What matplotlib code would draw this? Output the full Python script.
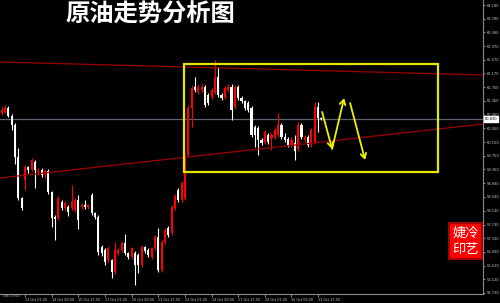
import matplotlib
matplotlib.use("Agg")
import matplotlib.pyplot as plt
from matplotlib.patches import Rectangle

# ---- data (H4 candles, bar index 0..96) ----
opens = [61.01, 61.04, 61.15, 60.92, 60.65, 59.71, 58.50, 59.04, 59.42, 59.33,
         59.56, 59.27, 59.33, 59.18, 59.30, 58.68, 57.95, 57.92, 58.39, 58.21,
         58.24, 58.21, 58.15, 58.45, 58.24, 58.30, 58.24, 58.59, 58.06, 57.95,
         57.06, 56.98, 56.68, 56.68, 56.33, 56.89, 56.98, 57.18, 56.89, 56.77,
         56.89, 56.83, 56.54, 57.06, 56.98, 56.77, 57.03, 57.36, 56.39, 57.21,
         57.62, 57.48, 58.21, 58.74, 58.45, 58.50, 59.77, 61.15, 61.77, 61.62,
         61.68, 61.77, 61.54, 61.48, 61.62, 62.06, 61.54, 61.48, 61.68, 61.77,
         61.18, 61.77, 61.45, 61.36, 61.30, 61.15, 60.59, 60.57, 60.21, 60.15,
         60.36, 60.27, 60.30, 60.36, 60.65, 60.30, 60.24, 60.06, 60.12, 59.95,
         60.65, 60.21, 60.30, 60.06, 60.15, 61.18, 60.86]
closes = [61.09, 61.15, 60.92, 60.65, 59.71, 58.50, 58.21, 59.42, 59.33, 59.62,
          59.33, 59.33, 59.18, 59.30, 58.68, 57.92, 57.88, 58.50, 58.21, 58.36,
          58.09, 58.39, 58.45, 57.86, 58.30, 58.24, 58.30, 58.06, 57.95, 56.92,
          56.89, 56.62, 57.03, 56.33, 56.98, 56.98, 57.18, 56.89, 56.77, 57.03,
          56.54, 56.54, 57.06, 56.95, 56.83, 57.03, 57.36, 56.39, 57.21, 57.56,
          57.42, 58.24, 58.56, 58.45, 58.95, 59.71, 61.15, 61.74, 61.68, 61.77,
          61.77, 61.24, 61.30, 61.68, 62.06, 61.54, 61.45, 61.74, 61.77, 61.10,
          61.77, 61.45, 61.36, 61.15, 61.09, 60.36, 60.36, 60.21, 60.12, 60.45,
          60.15, 60.36, 60.50, 60.65, 60.30, 60.21, 60.06, 60.21, 59.88, 60.65,
          60.30, 60.30, 60.06, 60.50, 61.18, 60.86, 60.83]
highs = [61.18, 61.24, 61.20, 60.98, 60.70, 59.98, 58.55, 59.48, 59.45, 59.70,
         59.62, 59.40, 59.38, 59.36, 59.36, 58.72, 58.00, 58.56, 58.45, 58.42,
         58.30, 58.89, 58.52, 58.60, 58.36, 58.45, 58.34, 58.65, 58.10, 58.00,
         57.12, 57.03, 57.10, 56.72, 57.21, 57.05, 57.25, 57.45, 56.92, 57.08,
         56.95, 56.89, 57.12, 57.10, 57.03, 57.08, 57.42, 57.62, 57.27, 57.62,
         57.68, 58.30, 58.62, 58.80, 59.00, 59.77, 61.24, 61.83, 62.06, 61.83,
         61.86, 61.83, 61.60, 61.74, 62.56, 62.36, 61.60, 61.80, 61.86, 61.86,
         61.83, 61.83, 61.50, 61.40, 61.35, 61.20, 60.65, 60.62, 60.27, 60.50,
         60.42, 60.42, 60.56, 61.00, 60.70, 60.42, 60.30, 60.30, 60.36, 60.74,
         60.70, 60.36, 60.36, 60.56, 61.33, 61.33, 60.89]
lows = [60.95, 61.00, 60.88, 60.50, 59.50, 58.45, 58.15, 58.74, 59.25, 59.30,
        58.80, 59.20, 59.12, 59.10, 58.62, 57.65, 57.27, 57.85, 58.15, 58.15,
        57.98, 58.15, 58.10, 57.60, 58.18, 58.20, 58.20, 58.00, 57.88, 56.85,
        56.80, 56.55, 56.62, 56.15, 56.28, 56.85, 56.92, 56.85, 56.72, 56.72,
        55.95, 56.30, 56.48, 56.90, 56.78, 56.72, 56.98, 56.33, 56.33, 57.15,
        57.36, 57.42, 58.15, 58.40, 58.40, 58.45, 59.71, 60.60, 61.62, 61.56,
        61.62, 61.18, 61.24, 61.42, 61.56, 61.48, 61.40, 61.42, 61.62, 60.80,
        61.12, 61.40, 61.30, 61.09, 61.03, 60.30, 60.00, 59.77, 60.06, 60.10,
        60.10, 59.92, 60.24, 60.30, 60.24, 60.15, 60.00, 60.00, 59.62, 59.90,
        60.24, 60.15, 60.00, 60.00, 60.10, 60.45, 60.80]

current_price = 60.83

ytick_values = [64.180, 63.780, 63.380, 62.970, 62.570, 62.170, 61.760, 61.360,
                60.960, 60.560, 60.150, 59.750, 59.350, 58.940, 58.540, 58.140,
                57.730, 57.330, 56.930, 56.520, 56.120, 55.720]
xtick_bars = [7, 15, 23, 31, 39, 47, 55, 63, 71, 79, 87, 95]
xtick_labels = ["13 Oct 01:00", "14 Oct 09:00", "15 Oct 17:00", "17 Oct 01:00",
                "20 Oct 09:00", "21 Oct 17:00", "23 Oct 01:00", "24 Oct 09:00",
                "27 Oct 17:00", "29 Oct 01:00", "30 Oct 09:00", "31 Oct 17:00"]

# drawing objects (trend lines, box, forecast arrows)
upper_line = ([-0.51, 144.5], [62.506, 62.124])
lower_line = ([-0.51, 144.5], [59.10, 60.684])
box_x = [54.7, 131.0]
box_p = [59.27, 62.447]
arrow_path = [((96.2, 61.037), (99.2, 59.95)),
              ((99.2, 59.95), (102.8, 61.448)),
              ((104.6, 61.30), (109.1, 59.627))]

title = "原油走势分析图"

# ---- figure ----
W, H = 500, 303
fig = plt.figure(figsize=(W / 100, H / 100), dpi=100, facecolor="black")
ax = fig.add_axes([0, 9 / H, 483 / W, 1 - 9 / H])
ax.set_facecolor("black")
ax.set_xlim(-0.51, 144.5)
ax.set_ylim(55.69, 64.327)

n = len(opens)
xs = list(range(n))
up_col, dn_col = "#ff0000", "#ffffff"
cols = [up_col if c >= o else dn_col for o, c in zip(opens, closes)]
ax.vlines(xs, lows, highs, colors=cols, linewidth=0.8, zorder=3)
bodies = [max(abs(c - o), 0.02) for o, c in zip(opens, closes)]
bottoms = [min(o, c) for o, c in zip(opens, closes)]
ax.bar(xs, bodies, bottom=bottoms, width=0.62, color=cols, linewidth=0, zorder=4)

# current price line
ax.axhline(current_price, color="#5a6470", linewidth=0.9, zorder=2)

# trend lines
ax.plot(*upper_line, color="#9a0000", linewidth=0.9, zorder=5)
ax.plot(*lower_line, color="#9a0000", linewidth=0.9, zorder=5)

# yellow box
ax.add_patch(Rectangle((box_x[0], box_p[0]), box_x[1] - box_x[0], box_p[1] - box_p[0],
                       fill=False, edgecolor="#e6e600", linewidth=1.6, zorder=6))

# forecast arrows
for (a, b) in arrow_path:
    ax.annotate("", xy=b, xytext=a,
                arrowprops=dict(arrowstyle="->,head_length=0.35,head_width=0.2",
                                color="#f0f000", lw=1.3, shrinkA=0, shrinkB=0),
                zorder=7)

# axes styling
for s in ["left", "top"]:
    ax.spines[s].set_visible(False)
for s in ["right", "bottom"]:
    ax.spines[s].set_color("#8a8a8a")
    ax.spines[s].set_linewidth(0.8)
ax.yaxis.tick_right()
ax.set_yticks(ytick_values, [f"{v:.3f}" for v in ytick_values])
ax.tick_params(axis="y", colors="#c8c8c8", labelsize=2.6, length=1.5, width=0.5, pad=1)
ax.set_xticks(xtick_bars, xtick_labels)
ax.tick_params(axis="x", colors="#c8c8c8", labelsize=2.4, length=2, width=0.5, pad=0.8)
for lbl in ax.get_xticklabels():
    lbl.set_ha("left")
ax.text(0.3, 55.69, "Oct 17:00", color="#c8c8c8", fontsize=2.4, ha="left", va="top",
        clip_on=False, transform=ax.transData)

# current price label
ax.text(145.0, current_price, f"{current_price:.3f}", fontsize=2.6, color="black",
        ha="left", va="center", clip_on=False,
        bbox=dict(boxstyle="square,pad=0.25", facecolor="white", edgecolor="white"), zorder=10)

# title
fig.text(65 / W, 1 - 15 / H, title, color="white", fontsize=17.5,
         family=["Noto Sans CJK SC", "DejaVu Sans"], ha="left", va="center", weight="bold")

# seal
fig.add_artist(Rectangle((449 / W, 1 - 259 / H), 33 / W, 36 / H, transform=fig.transFigure,
                         facecolor="#ff0000", edgecolor="#a00000", linewidth=1.5, zorder=20))
for txt, yy in [("婕冷", 233), ("印艺", 250)]:
    fig.text(465.5 / W, 1 - yy / H, txt, color="white", fontsize=9.5,
             family=["Noto Sans CJK SC", "DejaVu Sans"], ha="center", va="center", zorder=21)

fig.savefig("out.png", dpi=100, facecolor="black")
